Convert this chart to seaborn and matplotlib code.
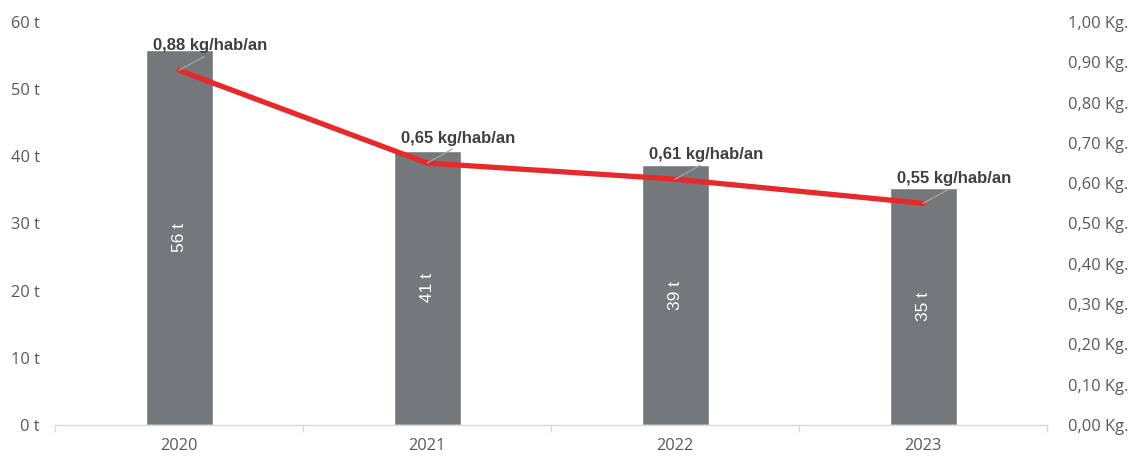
import numpy as np
import pandas as pd
import matplotlib
matplotlib.use("Agg")
import matplotlib.pyplot as plt
import seaborn as sns

years = ["2020", "2021", "2022", "2023"]
tonnes = [55.8, 40.8, 38.7, 35.3]
kg_per_hab = [0.88, 0.65, 0.61, 0.55]

left_ticks = [0, 10, 20, 30, 40, 50, 60]
right_ticks = [0.0, 0.1, 0.2, 0.3, 0.4, 0.5, 0.6, 0.7, 0.8, 0.9, 1.0]

BAR_COLOR = "#75787B"
LINE_COLOR = "#E8292C"
TICK_COLOR = "#595959"
AXIS_COLOR = "#D9D9D9"


def fr(v, nd):
    return f"{v:.{nd}f}".replace(".", ",")


sns.set_theme(style="white")
plt.rcParams["font.family"] = ["Open Sans", "DejaVu Sans"]

df = pd.DataFrame({"year": years, "tonnes": tonnes, "kg": kg_per_hab})

fig = plt.figure(figsize=(11.32, 4.57), dpi=100)
ax = fig.add_axes([0.0486, 0.070, 0.8764, 0.882])

sns.barplot(data=df, x="year", y="tonnes", color=BAR_COLOR, width=0.27,
            saturation=1, ax=ax)
ax.set_xlim(-0.5, 3.5)
ax.set_ylim(0, 60)
ax.set_xlabel("")
ax.set_ylabel("")
ax.set_yticks(left_ticks)
ax.set_yticklabels([f"{t} t" for t in left_ticks])
ax.set_xticks(range(len(years)))
ax.set_xticklabels(years)
ax.set_xticks(np.arange(-0.5, len(years), 1.0), minor=True)
ax.tick_params(axis="x", which="major", length=0, pad=9, labelsize=11.8,
               labelcolor=TICK_COLOR)
ax.tick_params(axis="x", which="minor", length=5, color=AXIS_COLOR, width=1,
               direction="out", bottom=True)
ax.tick_params(axis="y", length=0, pad=11, labelsize=11.8, labelcolor=TICK_COLOR)
for s in ["top", "left", "right"]:
    ax.spines[s].set_visible(False)
ax.spines["bottom"].set_color(AXIS_COLOR)
ax.spines["bottom"].set_linewidth(1)

# values inside bars
for i, t in enumerate(tonnes):
    ax.text(i, t / 2, f"{round(t)} t", rotation=90, ha="center", va="center",
            color="white", fontsize=12.5, fontfamily="Liberation Sans")

ax2 = ax.twinx()
sns.lineplot(x=np.arange(len(years)), y=kg_per_hab, color=LINE_COLOR,
             linewidth=3.8, ax=ax2)
ax2.set_ylim(0, 1.0)
ax2.set_yticks(right_ticks)
ax2.set_yticklabels([f"{fr(v, 2)} Kg." for v in right_ticks])
ax2.tick_params(axis="y", length=0, pad=15, labelsize=11.8, labelcolor=TICK_COLOR)
ax2.set_ylabel("")
for s in ["top", "left", "right", "bottom"]:
    ax2.spines[s].set_visible(False)

for i, v in enumerate(kg_per_hab):
    ax2.annotate(f"{fr(v, 2)} kg/hab/an", xy=(i, v), xytext=(31, 17),
                 textcoords="offset pixels", ha="center", va="bottom",
                 fontsize=12, fontweight="bold", color="#404040",
                 fontfamily="Liberation Sans",
                 arrowprops=dict(arrowstyle="-", color="#A6A6A6", lw=0.9,
                                 relpos=(0.5, 0.0), shrinkA=0, shrinkB=0))

fig.savefig("out.png", dpi=100)
